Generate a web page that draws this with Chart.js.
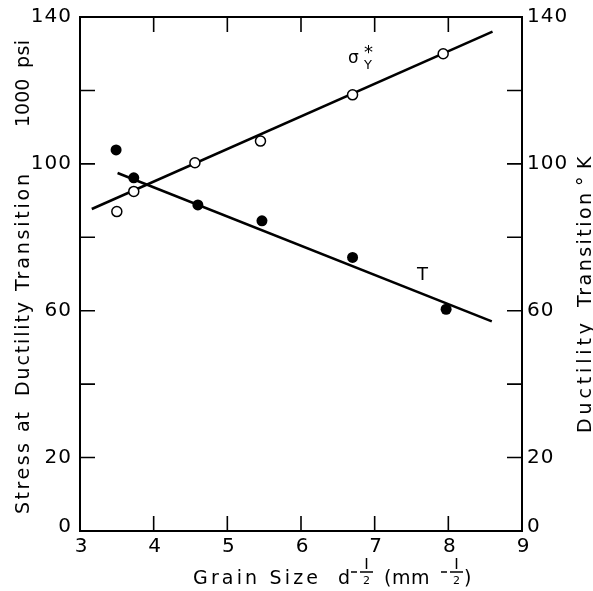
<!DOCTYPE html>
<html>
<head>
<meta charset="utf-8">
<script src="https://cdn.jsdelivr.net/npm/chart.js@4"></script>
<style>
  html, body { margin: 0; padding: 0; background: #fff; }
  #wrap { width: 593px; height: 591px; }
</style>
</head>
<body>
<div id="wrap"><canvas id="chart" width="593" height="591"></canvas></div>
<script>
// yield stress (open circles) vs grain size
var sigmaX = [3.5, 3.73, 4.56, 5.45, 6.7, 7.93];
var sigmaY = [87, 92.5, 100.3, 106.2, 118.8, 130];
// ductility transition temperature (filled dots)
var tempX = [3.49, 3.73, 4.6, 5.47, 6.7, 7.97];
var tempY = [103.8, 96.2, 88.8, 84.5, 74.5, 60.4];
// fitted straight lines, end points
var sigmaFitX = [3.16, 8.6];
var sigmaFitY = [87.7, 136];
var tempFitX = [3.51, 8.59];
var tempFitY = [97.5, 57.1];

var xTicks = [3, 4, 5, 6, 7, 8, 9];
var yTicks = [0, 20, 40, 60, 80, 100, 120, 140];
var yLabels = [0, 20, 60, 100, 140];

function pts(xs, ys) {
    return xs.map(function (x, i) { return { x: x, y: ys[i] }; });
}

var FONT = '"DejaVu Sans", sans-serif';

function text(ctx, s, x, y, size, spacing, align) {
    ctx.font = size + 'px ' + FONT;
    ctx.letterSpacing = (spacing || 0) + 'px';
    ctx.textAlign = align || 'left';
    ctx.fillText(s, x, y);
}

// spread a word between two positions by widening the letter gaps
function spread(ctx, s, from, to, y, size) {
    ctx.font = size + 'px ' + FONT;
    ctx.letterSpacing = '0px';
    var w = ctx.measureText(s).width;
    var gap = Math.max(0, (to - from - w) / Math.max(1, s.length - 1));
    ctx.letterSpacing = gap + 'px';
    ctx.textAlign = 'left';
    ctx.fillText(s, from, y);
}

// frame, inward ticks, labels and titles
var decor = {
    id: 'decor',
    afterDraw: function (chart) {
        var ctx = chart.ctx;
        var xs = chart.scales.x, ys = chart.scales.y;
        var a = chart.chartArea;
        ctx.save();
        ctx.strokeStyle = '#000';
        ctx.fillStyle = '#000';
        ctx.lineWidth = 2;
        ctx.strokeRect(a.left, a.top, a.right - a.left, a.bottom - a.top);

        ctx.lineWidth = 1.6;
        ctx.beginPath();
        xTicks.forEach(function (v) {
            if (v === 3 || v === 9) return;
            var px = xs.getPixelForValue(v);
            ctx.moveTo(px, a.bottom); ctx.lineTo(px, a.bottom - 15);
            ctx.moveTo(px, a.top); ctx.lineTo(px, a.top + 15);
        });
        yTicks.forEach(function (v) {
            if (v === 0 || v === 140) return;
            var py = ys.getPixelForValue(v);
            ctx.moveTo(a.left, py); ctx.lineTo(a.left + 15, py);
            ctx.moveTo(a.right, py); ctx.lineTo(a.right - 15, py);
        });
        ctx.stroke();

        // tick labels
        ctx.textBaseline = 'middle';
        yLabels.forEach(function (v) {
            var py = ys.getPixelForValue(v) + (v === 0 ? -4 : 0);
            text(ctx, String(v), a.left - 8, py, 20, 1, 'right');
            text(ctx, String(v), a.right + 5, py, 20, 1, 'left');
        });
        ctx.textBaseline = 'top';
        xTicks.forEach(function (v) {
            text(ctx, String(v), xs.getPixelForValue(v) + 1, a.bottom + 6, 20, 0, 'center');
        });

        // x title with fractional exponents
        ctx.textBaseline = 'alphabetic';
        var base = 584;
        spread(ctx, 'Grain Size', 193, 318, base, 19);
        text(ctx, 'd', 338, base, 19, 0, 'left');
        function halfExp(x0) {
            ctx.lineWidth = 1.5;
            ctx.beginPath();
            ctx.moveTo(x0, 572); ctx.lineTo(x0 + 6, 572);
            ctx.moveTo(x0 + 9, 572); ctx.lineTo(x0 + 22, 572);
            ctx.moveTo(x0 + 15.5, 558); ctx.lineTo(x0 + 15.5, 569);
            ctx.stroke();
            text(ctx, '2', x0 + 15.5, 584, 11, 0, 'center');
        }
        halfExp(351);
        text(ctx, '(mm', 384, base, 19, 0.5, 'left');
        halfExp(441);
        text(ctx, ')', 464, base, 19, 0, 'left');

        // left title, rotated, reads bottom to top
        ctx.save();
        ctx.translate(29, 0);
        ctx.rotate(-Math.PI / 2);
        spread(ctx, 'Stress', -514, -443, 0, 19);
        spread(ctx, 'at', -432, -412, 0, 19);
        spread(ctx, 'Ductility', -396, -302, 0, 19);
        spread(ctx, 'Transition', -291, -174, 0, 19);
        spread(ctx, '1000', -127, -80, 0, 19);
        spread(ctx, 'psi', -68, -40, 0, 19);
        ctx.restore();

        // right title, rotated
        ctx.save();
        ctx.translate(591, 0);
        ctx.rotate(-Math.PI / 2);
        spread(ctx, 'Ductility', -433, -323, 0, 19);
        spread(ctx, 'Transition', -307, -193, 0, 19);
        text(ctx, '\u00b0', -186, 0, 19, 0, 'left');
        text(ctx, 'K', -169, 0, 19, 0, 'left');
        ctx.restore();

        // curve labels
        text(ctx, '\u03c3', 348, 63, 17, 0, 'left');
        text(ctx, 'Y', 364, 69, 13, 0, 'left');
        text(ctx, '*', 364, 58, 18, 0, 'left');
        text(ctx, 'T', 417, 280, 18, 0, 'left');
        ctx.restore();
    }
};

var ctx = document.getElementById('chart').getContext('2d');
var chart = new Chart(ctx, {
    type: 'scatter',
    data: {
        datasets: [
            {
                label: 'sigma',
                data: pts(sigmaX, sigmaY),
                pointRadius: 5,
                pointBorderWidth: 1.5,
                pointBackgroundColor: '#fff',
                pointBorderColor: '#000'
            },
            {
                label: 'T',
                data: pts(tempX, tempY),
                pointRadius: 5.5,
                pointBorderWidth: 0,
                pointBackgroundColor: '#000',
                pointBorderColor: '#000'
            },
            {
                label: 'sigma fit',
                type: 'line',
                data: pts(sigmaFitX, sigmaFitY),
                showLine: true,
                pointRadius: 0,
                borderColor: '#000',
                borderWidth: 2.5
            },
            {
                label: 'T fit',
                type: 'line',
                data: pts(tempFitX, tempFitY),
                showLine: true,
                pointRadius: 0,
                borderColor: '#000',
                borderWidth: 2.5
            }
        ]
    },
    options: {
        responsive: false,
        animation: false,
        layout: { padding: { left: 80, top: 17, right: 71, bottom: 60 } },
        plugins: { legend: { display: false }, tooltip: { enabled: false } },
        scales: {
            x: { type: 'linear', min: 3, max: 9, display: false },
            y: { type: 'linear', min: 0, max: 140, display: false }
        }
    },
    plugins: [decor]
});
</script>
</body>
</html>
